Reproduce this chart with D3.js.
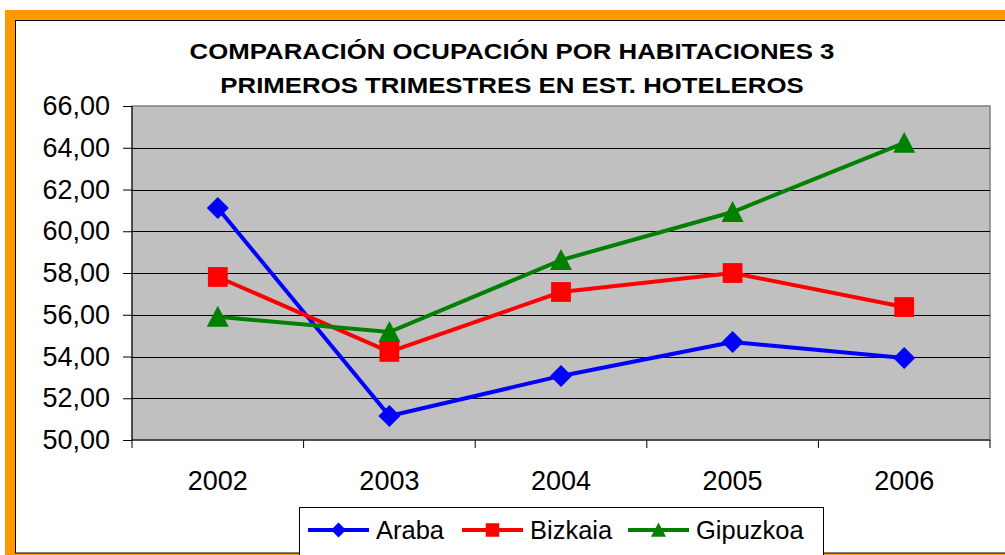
<!DOCTYPE html>
<html>
<head>
<meta charset="utf-8">
<script src="https://cdn.jsdelivr.net/npm/d3@7"></script>
<style>
  body { margin: 0; background: #fff; }
  svg { display: block; font-family: "Liberation Sans", Arial, sans-serif; }
</style>
</head>
<body>
<div class="canvas"></div>
<script>
// data
const years = ['2002', '2003', '2004', '2005', '2006']
const araba = [61.11, 51.15, 53.07, 54.69, 53.93]
const bizkaia = [57.81, 54.22, 57.09, 58.00, 56.37]
const gipuzkoa = [55.90, 55.17, 58.62, 60.92, 64.23]
const yTicks = [50, 52, 54, 56, 58, 60, 62, 64, 66]
const seriesNames = ['Araba', 'Bizkaia', 'Gipuzkoa']
const titleLines = ['COMPARACIÓN OCUPACIÓN POR HABITACIONES 3', 'PRIMEROS TRIMESTRES EN EST. HOTELEROS']

const series = [
    { name: seriesNames[0], values: araba, color: '#0000FF', shape: 'diamond' },
    { name: seriesNames[1], values: bizkaia, color: '#FF0000', shape: 'square' },
    { name: seriesNames[2], values: gipuzkoa, color: '#008000', shape: 'triangle' }
]

const width = 1005, height = 555
const plot = { left: 132, top: 106, right: 990, bottom: 440 }
const fontFamily = '"Liberation Sans", Arial, sans-serif'

const svg = d3.select('.canvas')
    .append('svg')
    .attr('width', width)
    .attr('height', height)

// outer frame: orange border + chart area
svg.append('rect')
    .attr('x', 5).attr('y', 10)
    .attr('width', width + 20).attr('height', height + 20)
    .attr('fill', '#FF9900')

svg.append('rect')
    .attr('x', 15.5).attr('y', 20.5)
    .attr('width', width + 10).attr('height', 553 - 20.5)
    .attr('fill', '#fff')
    .attr('stroke', '#000')
    .attr('stroke-width', 1)

// title (glyphs look a bit squashed vertically in the original)
svg.append('g')
    .attr('transform', 'translate(512, 59) scale(1, 0.85)')
    .append('text')
    .attr('text-anchor', 'middle')
    .attr('font-weight', 'bold')
    .attr('font-size', 25.8)
    .selectAll('tspan')
    .data(titleLines).enter()
    .append('tspan')
    .attr('x', 0)
    .attr('y', (d, i) => i * 34 / 0.85)
    .text(d => d)

// scales
const x = d3.scaleBand().domain(years).range([plot.left, plot.right])
const y = d3.scaleLinear().domain([50, 66]).range([plot.bottom, plot.top])

// plot area
svg.append('rect')
    .attr('x', plot.left).attr('y', plot.top)
    .attr('width', plot.right - plot.left).attr('height', plot.bottom - plot.top)
    .attr('fill', '#C0C0C0')
    .attr('stroke', '#808080')
    .attr('stroke-width', 1.5)

// gridlines
svg.append('g')
    .selectAll('line')
    .data(yTicks.slice(1, -1)).enter()
    .append('line')
    .attr('x1', plot.left).attr('x2', plot.right)
    .attr('y1', d => Math.round(y(d)) + 0.5)
    .attr('y2', d => Math.round(y(d)) + 0.5)
    .attr('stroke', '#000')
    .attr('stroke-width', 1)

// axes
const yAxis = d3.axisLeft(y)
    .tickValues(yTicks)
    .tickSize(9)
    .tickPadding(13)
    .tickFormat(d => d3.format('.2f')(d).replace('.', ','))

const yAxisGroup = svg.append('g')
    .attr('transform', `translate(${plot.left}, 0)`)
    .attr('font-family', fontFamily)
    .call(yAxis)

yAxisGroup.select('.domain').attr('stroke', '#000').attr('d', `M0,${plot.top}V${plot.bottom}`)
yAxisGroup.selectAll('.tick line').attr('stroke', '#000')
yAxisGroup.selectAll('text')
    .attr('font-size', 27)
    .attr('fill', '#000')

const xAxisGroup = svg.append('g')
    .attr('transform', `translate(0, ${plot.bottom})`)

xAxisGroup.append('line')
    .attr('x1', plot.left).attr('x2', plot.right)
    .attr('stroke', '#000')

xAxisGroup.selectAll('.xtick')
    .data(years.concat(['end'])).enter()
    .append('line')
    .attr('x1', (d, i) => i < years.length ? x(d) : plot.right)
    .attr('x2', (d, i) => i < years.length ? x(d) : plot.right)
    .attr('y1', 0).attr('y2', 8)
    .attr('stroke', '#000')

xAxisGroup.selectAll('text')
    .data(years).enter()
    .append('text')
    .attr('x', d => x(d) + x.bandwidth() / 2)
    .attr('y', 50)
    .attr('text-anchor', 'middle')
    .attr('font-size', 27)
    .text(d => d)

// markers
const symbolPath = (shape, s) => {
    if (shape === 'diamond') return `M0,${-s}L${s},0L0,${s}L${-s},0Z`
    if (shape === 'square') return `M${-s * 0.9},${-s * 0.9}H${s * 0.9}V${s * 0.9}H${-s * 0.9}Z`
    return `M0,${-s}L${s},${s * 0.9}H${-s}Z`
}

const line = d3.line()
    .x((d, i) => x(years[i]) + x.bandwidth() / 2)
    .y(d => y(d))

const lines = svg.append('g')

series.forEach(s => {
    lines.append('path')
        .attr('d', line(s.values))
        .attr('fill', 'none')
        .attr('stroke', s.color)
        .attr('stroke-width', 4)

    lines.append('g')
        .selectAll('path')
        .data(s.values).enter()
        .append('path')
        .attr('transform', (d, i) => `translate(${x(years[i]) + x.bandwidth() / 2}, ${y(d)})`)
        .attr('d', symbolPath(s.shape, 11))
        .attr('fill', s.color)
})

// legend
const legend = svg.append('g')

legend.append('rect')
    .attr('x', 299.5).attr('y', 507.5)
    .attr('width', 524).attr('height', 60)
    .attr('fill', '#fff')
    .attr('stroke', '#000')

const legendX = [308, 462, 628]
series.forEach((s, i) => {
    const g = legend.append('g').attr('transform', `translate(${legendX[i]}, 530)`)
    g.append('line')
        .attr('x1', 0).attr('x2', 61)
        .attr('stroke', s.color)
        .attr('stroke-width', 4)
    g.append('path')
        .attr('transform', 'translate(30.5, 0)')
        .attr('d', symbolPath(s.shape, 7.5))
        .attr('fill', s.color)
    g.append('text')
        .attr('x', 68)
        .attr('y', 8.5)
        .attr('font-size', 25.5)
        .text(s.name)
})
</script>
</body>
</html>
